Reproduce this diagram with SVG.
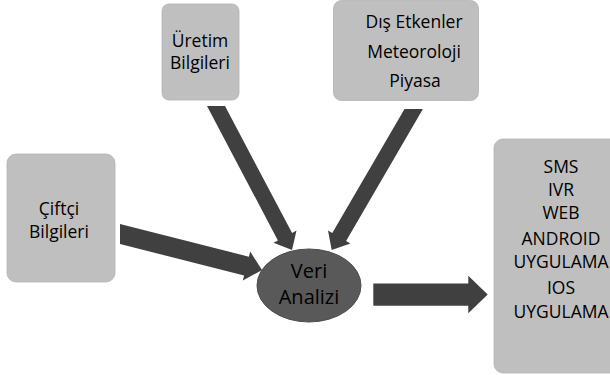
<svg xmlns="http://www.w3.org/2000/svg" width="610" height="375" viewBox="0 0 610 375">
<style>
.box{fill:#bfbfbf;stroke:#b3b3b3;stroke-width:0.8}
.t{font-family:"Open Sans","Liberation Sans",sans-serif;font-size:17.5px;fill:#000;text-anchor:middle}
.arr{fill:#404040}
</style>
<rect width="610" height="375" fill="#fff"/>
<g id="uretim">
<rect class="box" x="162" y="4" width="77" height="96" rx="7"/>
<text class="t" x="200" y="47">Üretim</text>
<text class="t" x="200" y="69">Bilgileri</text>
</g>
<g id="dis-etkenler">
<rect class="box" x="333.5" y="0.5" width="145" height="100" rx="8"/>
<text class="t" x="414" y="28">Dış Etkenler</text>
<text class="t" x="414" y="58">Meteoroloji</text>
<text class="t" x="415" y="87">Piyasa</text>
</g>
<g id="ciftci">
<rect class="box" x="7" y="154" width="108" height="128" rx="9"/>
<text class="t" x="59" y="215">Çiftçi</text>
<text class="t" x="59" y="238">Bilgileri</text>
</g>
<g id="kanallar">
<rect class="box" x="494" y="139" width="140" height="234" rx="9"/>
<text class="t" x="561" y="173">SMS</text>
<text class="t" x="561" y="196">IVR</text>
<text class="t" x="561" y="219">WEB</text>
<text class="t" x="561" y="245">ANDROID</text>
<text class="t" x="561" y="268">UYGULAMA</text>
<text class="t" x="561" y="294">IOS</text>
<text class="t" x="561" y="318">UYGULAMA</text>
</g>
<g id="connectors">
<polygon class="arr" points="207,106 225,106 292.1,233 296.5,230.6 292,250 273.5,242.8 277.9,240.4"/>
<polygon class="arr" points="404.5,109 422.9,109 346.1,241 350.4,243.5 331.7,250 328,230.5 332.3,233"/>
<polygon class="arr" points="120,224 248.9,256.7 250.2,251.6 262,270 242.8,280.6 244.1,275.5 120,244"/>
<polygon class="arr" points="373.3,283.5 468.3,283.5 468.3,275.7 487.7,294.5 468.3,313.3 468.3,305.7 373.3,305.7"/>
</g>
<g id="veri-analizi">
<ellipse cx="309" cy="285.5" rx="52" ry="36.5" fill="#595959" stroke="#4d4d4d" stroke-width="1"/>
<text class="t" x="309" y="278" style="font-size:20px">Veri</text>
<text class="t" x="309" y="304" style="font-size:20px">Analizi</text>
</g>
</svg>
